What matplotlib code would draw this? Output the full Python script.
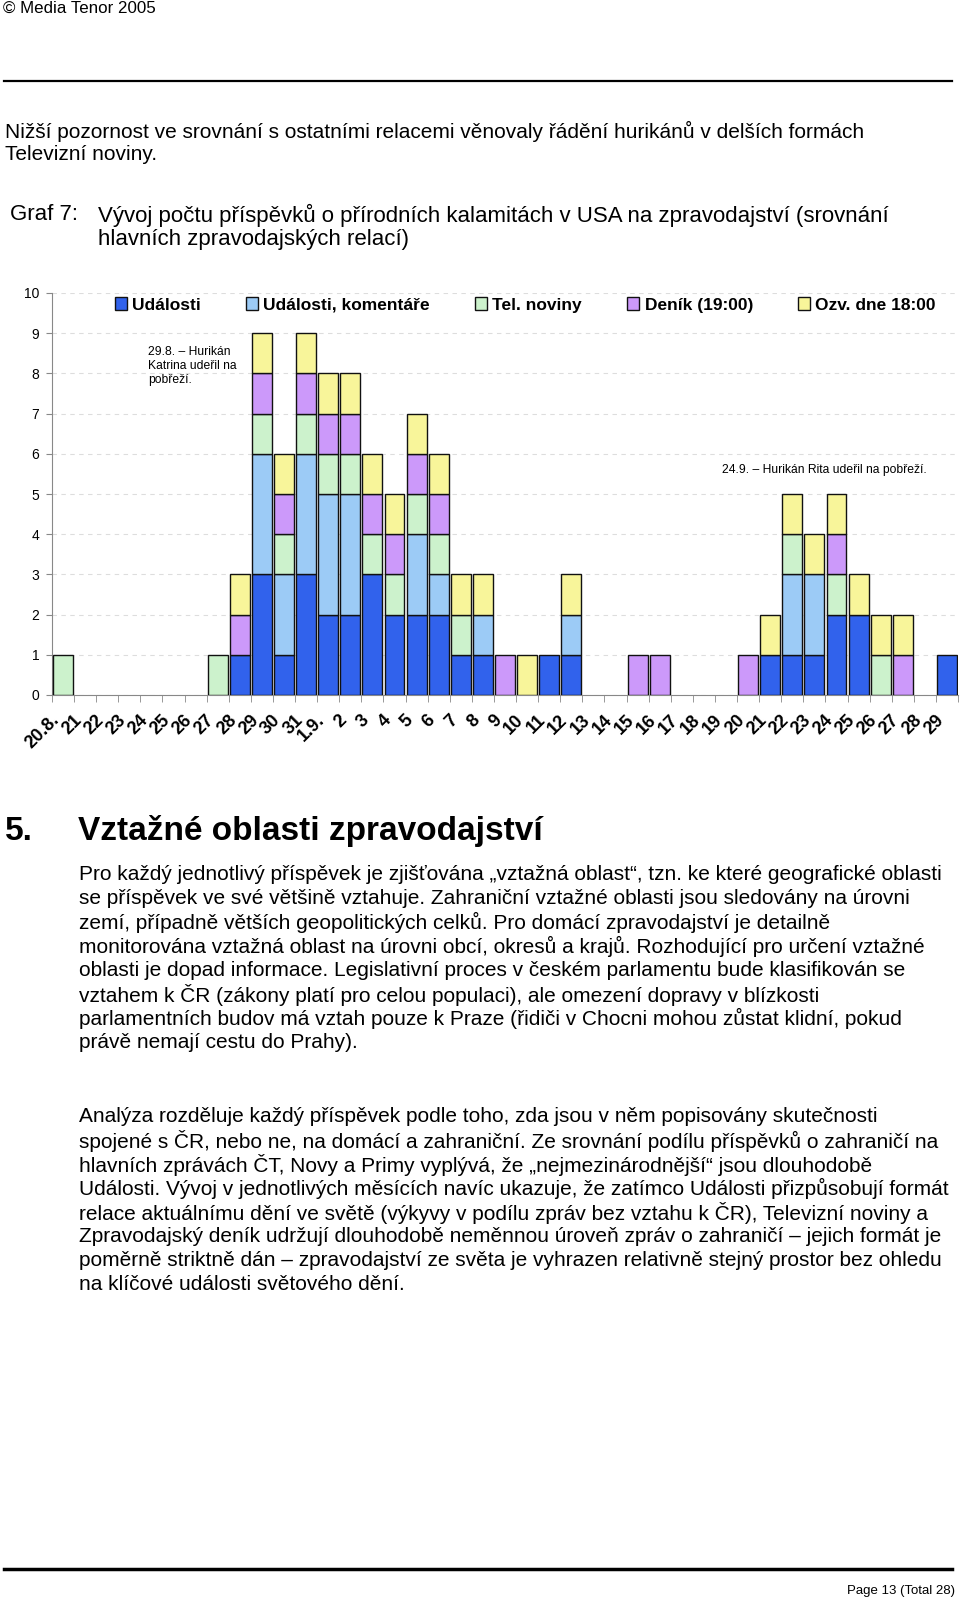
import numpy as np
import matplotlib
matplotlib.use("Agg")
import matplotlib.pyplot as plt
import matplotlib.transforms as mtransforms
from matplotlib.patches import Patch

plt.rcParams["font.family"] = ["Liberation Sans", "DejaVu Sans"]

# ---------------- data ----------------
days = ["20.8.", "21", "22", "23", "24", "25", "26", "27", "28", "29", "30", "31",
        "1.9.", "2", "3", "4", "5", "6", "7", "8", "9", "10", "11", "12", "13", "14",
        "15", "16", "17", "18", "19", "20", "21", "22", "23", "24", "25", "26", "27",
        "28", "29"]

udalosti   = [0, 0, 0, 0, 0, 0, 0, 0, 1, 3, 1, 3, 2, 2, 3, 2, 2, 2, 1, 1, 0, 0, 1, 1,
              0, 0, 0, 0, 0, 0, 0, 0, 1, 1, 1, 2, 2, 0, 0, 0, 1]
komentare  = [0, 0, 0, 0, 0, 0, 0, 0, 0, 3, 2, 3, 3, 3, 0, 0, 2, 1, 0, 1, 0, 0, 0, 1,
              0, 0, 0, 0, 0, 0, 0, 0, 0, 2, 2, 0, 0, 0, 0, 0, 0]
tel_noviny = [1, 0, 0, 0, 0, 0, 0, 1, 0, 1, 1, 1, 1, 1, 1, 1, 1, 1, 1, 0, 0, 0, 0, 0,
              0, 0, 0, 0, 0, 0, 0, 0, 0, 1, 0, 1, 0, 1, 0, 0, 0]
denik      = [0, 0, 0, 0, 0, 0, 0, 0, 1, 1, 1, 1, 1, 1, 1, 1, 1, 1, 0, 0, 1, 0, 0, 0,
              0, 0, 1, 1, 0, 0, 0, 1, 0, 0, 0, 1, 0, 0, 1, 0, 0]
ozvena     = [0, 0, 0, 0, 0, 0, 0, 0, 1, 1, 1, 1, 1, 1, 1, 1, 1, 1, 1, 1, 0, 1, 0, 1,
              0, 0, 0, 0, 0, 0, 0, 0, 1, 1, 1, 1, 1, 1, 1, 0, 0]

series = [udalosti, komentare, tel_noviny, denik, ozvena]
names = ["Události", "Události, komentáře", "Tel. noviny", "Deník (19:00)", "Ozv. dne 18:00"]
colors = ["#3162EC", "#9CCBF6", "#CCF2CC", "#CC99FA", "#F8F59A"]

header = "© Media Tenor 2005"
intro = ["Nižší pozornost ve srovnání s ostatními relacemi věnovaly řádění hurikánů v delších formách",
         "Televizní noviny."]
graf_title = ["Vývoj počtu příspěvků o přírodních kalamitách v USA na zpravodajství (srovnání",
              "hlavních zpravodajských relací)"]
note1 = "29.8. – Hurikán\nKatrina udeřil na\npobřeží."
note2 = "24.9. – Hurikán Rita udeřil na pobřeží."
section = "Vztažné oblasti zpravodajství"
para1 = ["Pro každý jednotlivý příspěvek je zjišťována „vztažná oblast“, tzn. ke které geografické oblasti",
         "se příspěvek ve své většině vztahuje. Zahraniční vztažné oblasti jsou sledovány na úrovni",
         "zemí, případně větších geopolitických celků. Pro domácí zpravodajství je detailně",
         "monitorována vztažná oblast na úrovni obcí, okresů a krajů. Rozhodující pro určení vztažné",
         "oblasti je dopad informace. Legislativní proces v českém parlamentu bude klasifikován se",
         "vztahem k ČR (zákony platí pro celou populaci), ale omezení dopravy v blízkosti",
         "parlamentních budov má vztah pouze k Praze (řidiči v Chocni mohou zůstat klidní, pokud",
         "právě nemají cestu do Prahy)."]
para2 = ["Analýza rozděluje každý příspěvek podle toho, zda jsou v něm popisovány skutečnosti",
         "spojené s ČR, nebo ne, na domácí a zahraniční. Ze srovnání podílu příspěvků o zahraničí na",
         "hlavních zprávách ČT, Novy a Primy vyplývá, že „nejmezinárodnější“ jsou dlouhodobě",
         "Události. Vývoj v jednotlivých měsících navíc ukazuje, že zatímco Události přizpůsobují formát",
         "relace aktuálnímu dění ve světě (výkyvy v podílu zpráv bez vztahu k ČR), Televizní noviny a",
         "Zpravodajský deník udržují dlouhodobě neměnnou úroveň zpráv o zahraničí – jejich formát je",
         "poměrně striktně dán – zpravodajství ze světa je vyhrazen relativně stejný prostor bez ohledu",
         "na klíčové události světového dění."]
footer = "Page 13 (Total 28)"

# ---------------- page ----------------
W, H = 960, 1599
fig = plt.figure(figsize=(W / 100, H / 100), dpi=100)


def fx(px):
    return px / W


def fy(py):
    return 1 - py / H


fig.text(fx(3), fy(8), header, fontsize=12.2, va="center", ha="left")
fig.add_artist(plt.Line2D([fx(4), fx(952)], [fy(81), fy(81)], color="black", lw=1.6))

for i, line in enumerate(intro):
    fig.text(fx(5), fy(131 + 24 * i), line, fontsize=15, va="center")

fig.text(fx(10), fy(215), "Graf 7:", fontsize=16, va="center")
for i, line in enumerate(graf_title):
    fig.text(fx(98), fy(215 + 25 * i), line, fontsize=16, va="center")

# ---------------- chart ----------------
ax = fig.add_axes([fx(52), fy(695), fx(906), (695 - 293) / H])
x = np.arange(len(days))
bottom = np.zeros(len(days))
for vals, name, col in zip(series, names, colors):
    v = np.array(vals, dtype=float)
    nz = v > 0
    ax.bar(x[nz], v[nz], bottom=bottom[nz], width=0.9, color=col, edgecolor="#111111",
           linewidth=1.0, label=name, zorder=3)
    bottom += v

ax.set_xlim(-0.5, len(days) - 0.5)
ax.set_ylim(0, 10)
ax.set_yticks(range(0, 11))
ax.tick_params(axis="y", labelsize=10, length=4, color="#888888", pad=5)
ax.yaxis.grid(True, linestyle=(0, (4, 4)), color="#dddddd", lw=0.8, zorder=0)
ax.set_xticks(x)
ax.set_xticklabels(days, rotation=45, ha="right", rotation_mode="anchor",
                   fontsize=13, fontweight="bold")
ax.tick_params(axis="x", length=0, pad=12)
ax.set_xticks(np.arange(-0.5, len(days)), minor=True)
ax.tick_params(axis="x", which="minor", length=5, color="#888888")
shift = mtransforms.ScaledTranslation(-0.12, 0, fig.dpi_scale_trans)
for lab in ax.get_xticklabels():
    lab.set_transform(lab.get_transform() + shift)
for s in ["top", "right"]:
    ax.spines[s].set_visible(False)
for s in ["left", "bottom"]:
    ax.spines[s].set_color("#888888")

ax.text(3.84, 8.18, note1, fontsize=8.7, va="center", ha="left", linespacing=1.2)
ax.text(29.83, 5.6, note2, fontsize=8.7, va="center", ha="left")

handles = [Patch(facecolor=c, edgecolor="#111111", lw=1.0) for c in colors]
leg = ax.legend(handles, names, ncol=5, loc="center left", frameon=False,
                bbox_to_anchor=(0.052, 0.97), handlelength=0.7, handleheight=0.7,
                handletextpad=0.3, columnspacing=2.6,
                prop={"size": 12.5, "weight": "bold"})

# ---------------- text below ----------------
fig.text(fx(5), fy(831), "5.", fontsize=24, fontweight="bold", va="center")
fig.text(fx(78), fy(831), section, fontsize=24, fontweight="bold", va="center")

for i, line in enumerate(para1):
    fig.text(fx(79), fy(875 + 23.9 * i), line, fontsize=15, va="center")
for i, line in enumerate(para2):
    fig.text(fx(79), fy(1117 + 23.9 * i), line, fontsize=15, va="center")

fig.add_artist(plt.Line2D([fx(4), fx(952)], [fy(1569), fy(1569)], color="black", lw=2.5))
fig.text(fx(955), fy(1591), footer, fontsize=9.5, ha="right", va="center")

fig.savefig("out.png", dpi=100)
